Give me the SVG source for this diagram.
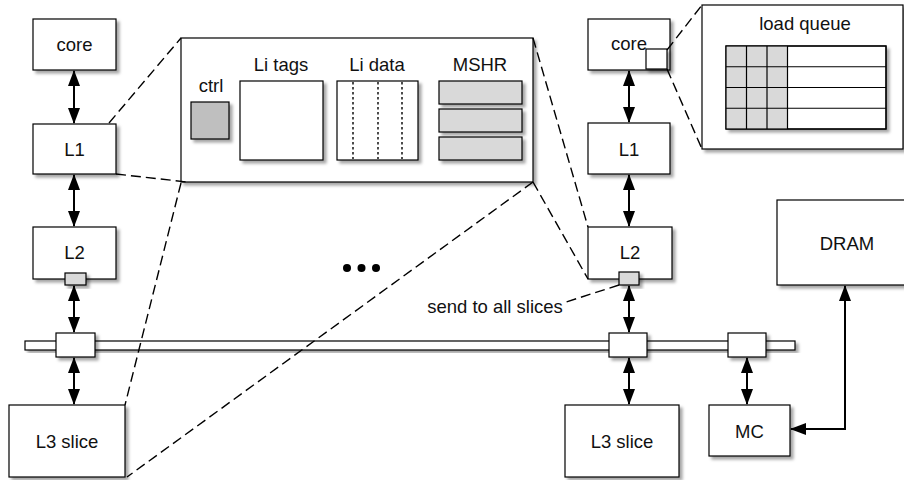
<svg xmlns="http://www.w3.org/2000/svg" width="904" height="480" viewBox="0 0 904 480">
  <style>
    .box { fill: #fff; stroke: #000; stroke-width: 1.2; filter: url(#shadow); }
    .grey { fill: #d9d9d9; stroke: #000; stroke-width: 1.2; filter: url(#shadow); }
    .dark { fill: #bfbfbf; stroke: #000; stroke-width: 1.2; filter: url(#shadow); }
    .plain { fill: none; stroke: #000; stroke-width: 1.2; }
    .lbl { font-family: "Liberation Sans", Arial, sans-serif; font-size: 18.5px; fill: #111; text-anchor: middle; }
    .zoomline { fill: none; stroke: #000; stroke-width: 1.4; stroke-dasharray: 10 5; }
    .dots { fill: none; stroke: #000; stroke-width: 1.4; stroke-dasharray: 2.5 2.5; }
    .link { fill: none; stroke: #000; stroke-width: 2; marker-start: url(#head); marker-end: url(#head); }
  </style>
  <defs>
    <filter id="shadow" x="-20%" y="-20%" width="150%" height="150%">
      <feDropShadow dx="3" dy="3" stdDeviation="1.8" flood-color="#000" flood-opacity="0.35"/>
    </filter>
    <marker id="head" viewBox="0 0 16 12" refX="15" refY="6" markerWidth="16" markerHeight="12" markerUnits="userSpaceOnUse" orient="auto-start-reverse">
      <path d="M0,0 L16,6 L0,12 z" fill="#000"/>
    </marker>
  </defs>

  <rect width="904" height="480" fill="#fff"/>

  <!-- ring bus -->
  <g id="bus">
    <rect class="box" x="25" y="341" width="770" height="9"/>
  </g>

  <!-- left tile -->
  <g id="core-left">
    <rect class="box" x="33" y="19" width="83" height="51"/>
    <text class="lbl" x="74.5" y="51">core</text>
  </g>
  <g id="l1-left">
    <rect class="box" x="33" y="124" width="83" height="50"/>
    <text class="lbl" x="74.5" y="156">L1</text>
  </g>
  <g id="l2-left">
    <rect class="box" x="33" y="227" width="83" height="52"/>
    <text class="lbl" x="74.5" y="259">L2</text>
    <rect class="grey" x="65" y="273" width="21" height="12"/>
  </g>
  <g id="stop-left">
    <rect class="box" x="56" y="333" width="39" height="24"/>
  </g>
  <g id="l3-left">
    <rect class="box" x="9" y="405" width="116" height="72"/>
    <text class="lbl" x="67" y="448">L3 slice</text>
  </g>

  <!-- L1 detail view -->
  <g id="l1-detail">
    <rect class="box" x="181" y="38" width="352" height="144"/>
    <text class="lbl" x="211" y="92">ctrl</text>
    <rect class="dark" x="191" y="102" width="38" height="37"/>
    <text class="lbl" x="281" y="71">Li tags</text>
    <rect class="box" x="240" y="81" width="83" height="79"/>
    <text class="lbl" x="377" y="71">Li data</text>
    <rect class="box" x="337" y="81" width="81" height="79"/>
    <line class="dots" x1="353" y1="82" x2="353" y2="159"/>
    <line class="dots" x1="378" y1="82" x2="378" y2="159"/>
    <line class="dots" x1="402" y1="82" x2="402" y2="159"/>
    <text class="lbl" x="480" y="71">MSHR</text>
    <rect class="grey" x="439" y="81" width="83" height="23"/>
    <rect class="grey" x="439" y="109" width="83" height="23"/>
    <rect class="grey" x="439" y="137" width="83" height="23"/>
  </g>

  <!-- more tiles -->
  <g id="ellipsis">
    <circle cx="347" cy="268" r="4" fill="#000"/>
    <circle cx="361.5" cy="268" r="4" fill="#000"/>
    <circle cx="376" cy="268" r="4" fill="#000"/>
  </g>

  <!-- right tile -->
  <g id="core-right">
    <rect class="box" x="588" y="19" width="82" height="51"/>
    <text class="lbl" x="629" y="50">core</text>
    <rect class="box" x="646" y="49" width="21" height="20"/>
  </g>
  <g id="l1-right">
    <rect class="box" x="588" y="123" width="82" height="51"/>
    <text class="lbl" x="629" y="156">L1</text>
  </g>
  <g id="l2-right">
    <rect class="box" x="588" y="227" width="84" height="52"/>
    <text class="lbl" x="630" y="259">L2</text>
    <rect class="grey" x="619" y="272" width="20" height="13"/>
  </g>
  <g id="stop-right">
    <rect class="box" x="609" y="333" width="38" height="24"/>
  </g>
  <g id="stop-mc">
    <rect class="box" x="728" y="333" width="38" height="24"/>
  </g>
  <g id="l3-right">
    <rect class="box" x="565" y="405" width="114" height="72"/>
    <text class="lbl" x="622" y="448">L3 slice</text>
  </g>
  <g id="mc">
    <rect class="box" x="709" y="405" width="81" height="51"/>
    <text class="lbl" x="749.5" y="438">MC</text>
  </g>
  <g id="dram">
    <rect class="box" x="777" y="200" width="140" height="85"/>
    <text class="lbl" x="847" y="250">DRAM</text>
  </g>

  <!-- load queue detail view -->
  <g id="load-queue">
    <rect class="box" x="702" y="5" width="201" height="144"/>
    <text class="lbl" x="805" y="30">load queue</text>
    <rect class="box" x="726" y="46" width="160" height="83"/>
    <rect x="726" y="46" width="61.5" height="83" fill="#d9d9d9"/>
    <g class="plain">
      <rect x="726" y="46" width="160" height="83"/>
      <line x1="726" y1="66.75" x2="886" y2="66.75"/>
      <line x1="726" y1="87.5" x2="886" y2="87.5"/>
      <line x1="726" y1="108.25" x2="886" y2="108.25"/>
      <line x1="746.5" y1="46" x2="746.5" y2="129"/>
      <line x1="767" y1="46" x2="767" y2="129"/>
      <line x1="787.5" y1="46" x2="787.5" y2="129"/>
    </g>
  </g>

  <g id="note">
    <text class="lbl" x="495" y="313">send to all slices</text>
  </g>

  <!-- connectors -->
  <g id="connectors">
    <line class="link" x1="74" y1="71" x2="74" y2="123"/>
    <line class="link" x1="74" y1="175" x2="74" y2="226"/>
    <line class="link" x1="74" y1="286" x2="74" y2="332"/>
    <line class="link" x1="74" y1="358" x2="74" y2="404"/>
    <line class="link" x1="629" y1="71" x2="629" y2="122"/>
    <line class="link" x1="629" y1="175" x2="629" y2="226"/>
    <line class="link" x1="629" y1="286" x2="629" y2="332"/>
    <line class="link" x1="629" y1="358" x2="629" y2="404"/>
    <line class="link" x1="747" y1="358" x2="747" y2="404"/>
    <path class="link" d="M791,429 H845 V286"/>

    <!-- zoom guides -->
    <line class="zoomline" x1="109" y1="123" x2="181" y2="38"/>
    <line class="zoomline" x1="116" y1="174" x2="187" y2="182"/>
    <line class="zoomline" x1="181" y1="183" x2="125" y2="405"/>
    <line class="zoomline" x1="533" y1="182" x2="127" y2="477"/>
    <line class="zoomline" x1="533" y1="38" x2="588" y2="227"/>
    <line class="zoomline" x1="533" y1="182" x2="588" y2="279"/>
    <line class="zoomline" x1="667" y1="50" x2="702" y2="5"/>
    <line class="zoomline" x1="667" y1="69" x2="702" y2="149"/>
    <line class="zoomline" x1="619" y1="285" x2="566" y2="302"/>
  </g>
</svg>
